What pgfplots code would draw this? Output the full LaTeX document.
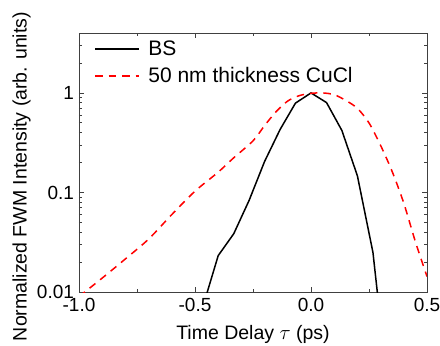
\documentclass[border=0pt]{standalone}
\usepackage{fontspec}
\setmainfont{Liberation Sans}
\usepackage{pgfplots}
\pgfplotsset{compat=1.18}
\begin{document}
\begin{tikzpicture}[x=1pt,y=1pt]
\path[use as bounding box] (0,0) rectangle (440,346);
\begin{axis}[
  at={(79pt,54pt)}, anchor=south west,
  scale only axis, width=348pt, height=259pt,
  ymode=log, xmin=-1, xmax=0.5, ymin=0.01, ymax=4,
  xtick={-1,-0.5,0,0.5}, minor xtick={-0.75,-0.25,0.25},
  xticklabel style={yshift=-3pt, /pgf/number format/.cd, fixed, fixed zerofill, precision=1},
  yticklabel style={xshift=-1.5pt},
  ytick={0.01,0.1,1}, yticklabels={0.01,0.1,1},
  minor ytick={0.02,0.03,0.04,0.05,0.06,0.07,0.08,0.09,0.2,0.3,0.4,0.5,0.6,0.7,0.8,0.9,2,3,4},
  tick align=inside,
  major tick length=5pt, minor tick length=3pt,
  axis line style={black!75, line width=0.9pt},
  every tick/.style={black!75, line width=0.8pt},
  /pgf/number format/assume math mode=true,
  ticklabel style={font=\fontsize{19}{22}\selectfont},
  xlabel={Time Delay $\tau$ (ps)},
  ylabel={Normalized FWM Intensity (arb. units)},
  every axis x label/.style={at={(axis description cs:0.5,-0.185)}, anchor=base, font=\fontsize{19.5}{23}\selectfont},
  every axis y label/.style={at={(axis description cs:-0.165,0.446)}, rotate=90, anchor=center, font=\fontsize{19.5}{23}\selectfont},
  legend style={draw=none, fill=none, inner sep=0pt, nodes={inner sep=0pt},
    at={(axis description cs:0,1)}, anchor=north west,
    xshift=15.3pt, yshift=-7.7pt, font=\fontsize{21}{24}\selectfont, row sep=10.4pt,
    /tikz/every odd column/.append style={column sep=8.4pt}},
  legend cell align=left,
  legend image code/.code={\draw[#1] (0pt,0pt) -- (44pt,0pt);},
  clip=true,
]
\addlegendimage{black, line width=1.5pt}
\addlegendentry{BS}
\addlegendimage{red, line width=1.5pt, dash pattern=on 7.5pt off 6pt}
\addlegendentry{50 nm thickness CuCl}
\addplot[black, line width=1.5pt, forget plot] coordinates {
(-0.467,0.007) (-0.400,0.0232) (-0.333,0.0385) (-0.267,0.083) (-0.200,0.205)
(-0.133,0.43) (-0.067,0.79) (0.000,1.0) (0.067,0.80) (0.133,0.42)
(0.200,0.147) (0.267,0.025) (0.333,0.001)
};
\addplot[red, line width=1.5pt, dash pattern=on 7.5pt off 6pt, smooth, tension=0.5, forget plot] coordinates {
(-1.00,0.0090) (-0.90,0.0138) (-0.80,0.0215) (-0.70,0.034) (-0.60,0.060)
(-0.50,0.103) (-0.40,0.160) (-0.335,0.221) (-0.25,0.330) (-0.20,0.47)
(-0.15,0.65) (-0.10,0.83) (-0.05,0.94) (0.00,0.99) (0.05,1.00)
(0.10,0.96) (0.15,0.84) (0.20,0.70) (0.25,0.50) (0.30,0.297)
(0.35,0.162) (0.40,0.078) (0.45,0.032) (0.50,0.0143)
};
\end{axis}
\end{tikzpicture}
\end{document}
